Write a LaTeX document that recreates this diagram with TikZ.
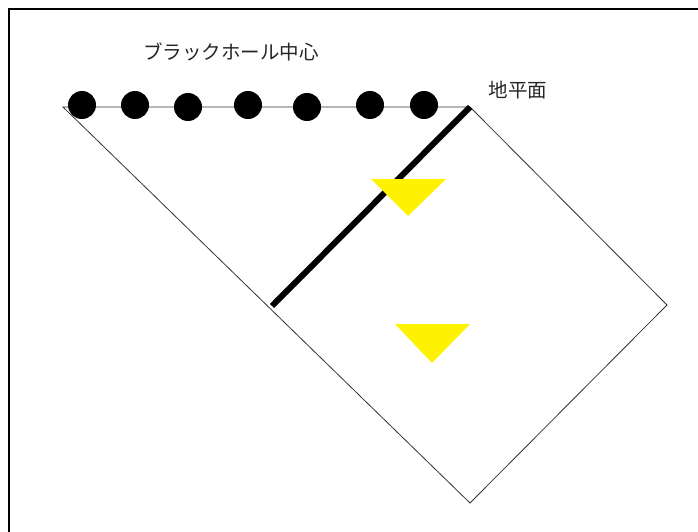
\documentclass[tikz,border=0pt]{standalone}
\usepackage{fontspec}
\newfontfamily\jp{Noto Sans CJK JP}
\begin{document}
\begin{tikzpicture}[x=1pt,y=-1pt,
  thin line/.style={draw=black!80,line width=0.8pt},
  bh/.style={circle,fill=black,inner sep=0pt,minimum size=28pt},
  label/.style={font=\jp\fontsize{19.5}{19.5}\selectfont,text=black!85,inner sep=0pt},
  yel/.style={fill=yellow}]
\useasboundingbox (0,0) rectangle (698,532);
\clip (0,0) rectangle (698,532);
\fill[white] (0,0) rectangle (698,532);
\draw[line width=2.5pt] (9,540) -- (9,9) -- (710,9);
% vertices
\coordinate (L) at (63,107);
\coordinate (T) at (470,107);
\coordinate (R) at (667,305);
\coordinate (B) at (470,503);
\coordinate (M) at (272,306);
\draw[thin line] (L) -- (T) -- (R) -- (B) -- cycle;
\draw[line width=6pt] (T) -- (M);
% singularity dots
\foreach \n/\x/\y in {1/82/105,2/135/105,3/188/107,4/248/105,5/307/107,6/370/105,7/424/105}
  \node[bh] (d\n) at (\x,\y) {};
% yellow triangles
\fill[yel] (371,179) -- (446,179) -- (408,216) -- cycle;
\fill[yel] (395,324) -- (470,324) -- (432,363) -- cycle;
% labels
\node[label] (bhc) at (231,52) {ブラックホール中心};
\node[label] (hor) at (518,90) {地平面};
\end{tikzpicture}
\end{document}
